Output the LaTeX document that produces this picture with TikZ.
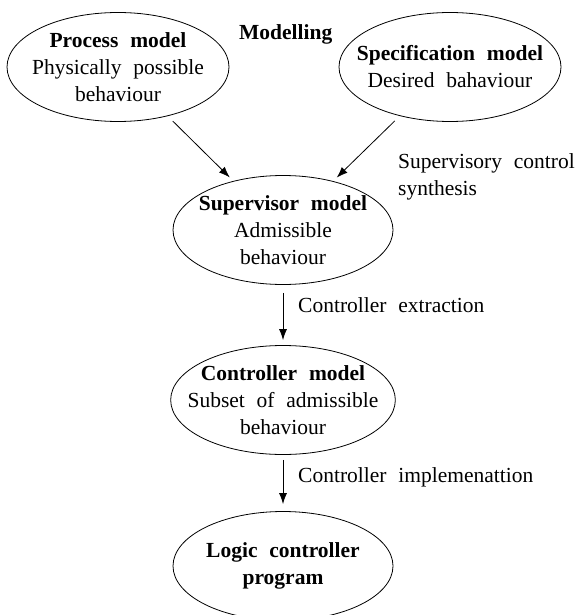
\documentclass[tikz,border=0pt]{standalone}
\usepackage{fontspec}
\setmainfont{Liberation Serif}[WordSpace=2.2]
\usepackage{tikz}
\usetikzlibrary{arrows.meta,shapes}
\newcommand{\ellwd}{222pt}
\newcommand{\ellht}{109pt}
\newcommand{\txtsize}{\fontsize{21.5pt}{27pt}\selectfont}

\begin{document}
\begin{tikzpicture}[x=1pt, y=-1pt]
                %\draw[help lines] (0,0) grid (585,615);
                \tikzset{ModelStyle/.style = {draw, ellipse, line width=0.8pt, inner sep=-16pt,
                        minimum width=\ellwd, minimum height=\ellht, align=center, font=\txtsize}}
                \tikzset{LabelStyle/.style = {inner sep=0pt, align=left, font=\txtsize}}
                \tikzset{FlowStyle/.style = {-{Latex[length=11pt, width=8pt]}, line width=0.8pt}}
                \useasboundingbox (0,0) rectangle (585,615);
                \node[ModelStyle] (proc) at (118, 67) {\textbf{Process model}\\Physically possible\\behaviour};
                \node[ModelStyle] (spec) at (450, 67) {\textbf{Specification model}\\Desired bahaviour};
                \node[ModelStyle, minimum width=220pt] (sup) at (283, 230) {\textbf{Supervisor model}\\Admissible\\behaviour};
                \node[ModelStyle, minimum width=220pt] (ctrl) at (283, 400) {\textbf{Controller model}\\Subset of admissible\\behaviour};
                \node[ModelStyle, minimum width=220pt] (plc) at (283, 566) {\textbf{Logic controller}\\\textbf{program}};
                \node[LabelStyle, anchor=base west] (mod) at (239, 40) {\textbf{Modelling}};
                \node[LabelStyle, anchor=north west] (synth) at (398, 153) {Supervisory control\\synthesis};
                \node[LabelStyle, anchor=base west] (extr) at (298, 312) {Controller extraction};
                \node[LabelStyle, anchor=base west] (impl) at (298, 482) {Controller implemenattion};
                \draw[FlowStyle, shorten <=7pt, shorten >=5pt] (proc) -- (sup);
                \draw[FlowStyle, shorten <=7pt, shorten >=5pt] (spec) -- (sup);
                \draw[FlowStyle, shorten <=8pt, shorten >=5pt] (sup) -- (ctrl);
                \draw[FlowStyle, shorten <=5pt, shorten >=7pt] (ctrl) -- (plc);
\end{tikzpicture}
\end{document}
